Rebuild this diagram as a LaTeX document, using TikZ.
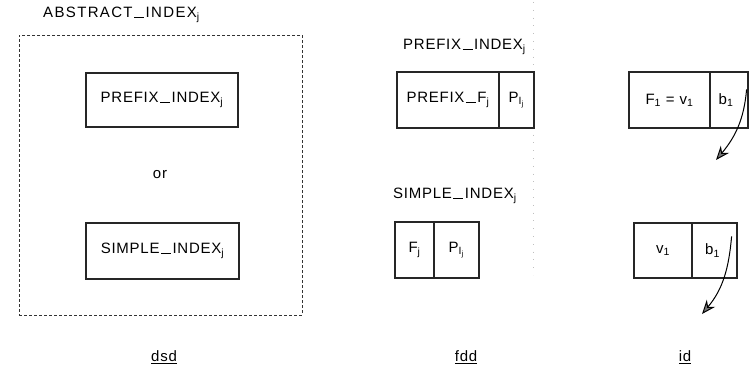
\documentclass[tikz,border=0pt]{standalone}
\usepackage{fontspec}
\setmainfont{Liberation Sans}[LetterSpace=5]
\usetikzlibrary{arrows.meta}
% low joining stroke used between the words of a name
\newcommand{\jn}{\kern1.5pt\rule[0pt]{10pt}{0.5pt}\kern1.5pt}
\begin{document}
\begin{tikzpicture}[x=1pt,y=-1pt,
  txt/.style={font=\fontsize{15}{17}\selectfont, inner sep=0pt},
  cell/.style={draw=black!85, line width=1.2pt, inner sep=0pt,
    font=\fontsize{15}{17}\selectfont},
  frame/.style={draw=black!80, dashed, dash pattern=on 3pt off 2pt, line width=0.7pt},
  ptr/.style={line width=1pt, -{Stealth[length=14pt,width=11pt,fill=black!55]}},
  caption/.style={font=\fontsize{15}{17}\selectfont, inner sep=0pt}
]
\useasboundingbox (0,0) rectangle (754,369);

% faint fold line
\draw[black!25, line width=0.6pt, dash pattern=on 0.8pt off 7pt] (533,2) -- (533,275);

% ---- dsd ----
\node[txt, anchor=west] (abs) at (43,15) {\addfontfeatures{LetterSpace=9}ABSTRACT\jn INDEX$_{\mathrm{j}}$};
\node[frame, minimum width=283pt, minimum height=280pt] (absbox) at (160.5,175) {};
\node[cell, minimum width=152pt, minimum height=54pt] (pidx) at (162,100) {PREFIX\jn INDEX$_{\mathrm{j}}$};
\node[txt] (or) at (160,175) {or};
\node[cell, minimum width=153pt, minimum height=56pt] (sidx) at (162.5,251) {SIMPLE\jn INDEX$_{\mathrm{j}}$};
\node[caption] (dsd) at (164,357) {\underline{dsd}};

% ---- fdd ----
\node[txt, anchor=west] (plab) at (403,47) {PREFIX\jn INDEX$_{\mathrm{j}}$};
\node[cell, minimum width=102pt, minimum height=56pt] (pf) at (448,100) {PREFIX\jn F$_{\mathrm{j}}$};
\node[cell, minimum width=35pt, minimum height=56pt] (pp) at (516.5,100) {P$_{\mathrm{I}_{\mathrm{j}}}$};
\node[txt, anchor=west] (slab) at (393,196) {SIMPLE\jn INDEX$_{\mathrm{j}}$};
\node[cell, minimum width=39pt, minimum height=56pt] (sf) at (414.5,250) {F$_{\mathrm{j}}$};
\node[cell, minimum width=45pt, minimum height=56pt] (sp) at (456.5,250) {P$_{\mathrm{I}_{\mathrm{j}}}$};
\node[caption] (fdd) at (466,357) {\underline{fdd}};

% ---- id ----
\node[cell, minimum width=81pt, minimum height=56pt] (fv) at (669.5,100) {F$_{\mathrm{1}}$ = v$_{\mathrm{1}}$};
\node[cell, minimum width=38pt, minimum height=56pt] (fb) at (729,100) {\hspace*{-6pt}b$_{\mathrm{1}}$};
\node[cell, minimum width=58pt, minimum height=55pt] (vv) at (663,250.5) {v$_{\mathrm{1}}$};
\node[cell, minimum width=45pt, minimum height=55pt] (vb) at (714.5,250.5) {\hspace*{-4pt}b$_{\mathrm{1}}$};
\node[caption] (id) at (685,357) {\underline{id}};

\coordinate (t1) at (716,160);
\coordinate (t2) at (702,314);
\draw[ptr] ([xshift=-2pt,yshift=-18pt]fb.north east) to[out=-95,in=50] (t1);
\draw[ptr] ([xshift=-6pt,yshift=-14pt]vb.north east) to[out=-95,in=50] (t2);
\end{tikzpicture}
\end{document}
